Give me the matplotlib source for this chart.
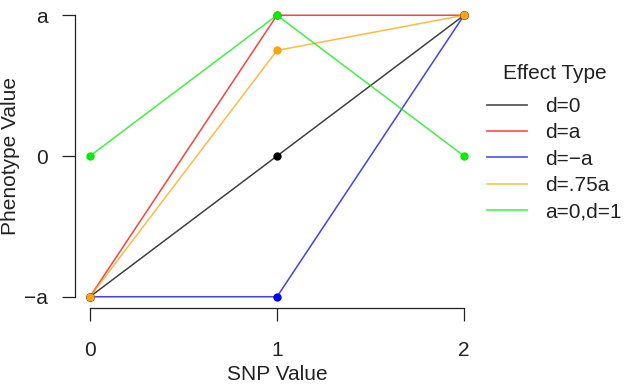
import matplotlib
matplotlib.use("Agg")
import matplotlib.pyplot as plt
from matplotlib.lines import Line2D

plt.rcParams['font.family'] = ['Liberation Sans', 'DejaVu Sans']

snp = [0, 1, 2]
labels = ["d=0", "d=a", "d=\u2212a", "d=.75a", "a=0,d=1"]
colors = ["black", "red", "blue", "orange", "#00ee00"]
values = [
    [-1, 0, 1],
    [-1, 1, 1],
    [-1, -1, 1],
    [-1, 0.75, 1],
    [0, 1, 0],
]
yticks = [-1, 0, 1]
yticklabels = ["\u2212a", "0", "a"]

W, H = 624, 384
FS = 15
fig = plt.figure(figsize=(W / 100, H / 100), dpi=100)
ax = fig.add_axes([75 / W, 1 - 308 / H, 404 / W, 304 / H])

for vals, col in zip(values, colors):
    ax.plot(snp, vals, color=col, lw=1.1, alpha=0.75, zorder=2)
    ax.plot(snp, vals, "o", color=col, ms=6, mec="none", zorder=3)

ax.set_xlim(-0.08, 2.08)
ax.set_ylim(-1.08, 1.08)
ax.set_xticks(snp)
ax.set_yticks(yticks)
ax.set_yticklabels(yticklabels)
for s in ["top", "right"]:
    ax.spines[s].set_visible(False)
ax.spines["left"].set_bounds(-1, 1)
ax.spines["bottom"].set_bounds(0, 2)
for s in ["left", "bottom"]:
    ax.spines[s].set_linewidth(0.9)
    ax.spines[s].set_color("#222222")
ax.tick_params(axis="both", direction="out", length=9.5, width=0.9, color="#222222",
               labelsize=FS, labelcolor="#222222")
ax.tick_params(axis="x", pad=14)
ax.tick_params(axis="y", pad=10)

ax.set_xlabel("SNP Value", fontsize=FS, color="#222222")
ax.set_ylabel("Phenotype Value", fontsize=FS, color="#222222")
ax.xaxis.set_label_coords(0.5, (308 - 375) / 304)
ax.xaxis.label.set_verticalalignment("center")
ax.yaxis.set_label_coords((11 - 75) / 404, 0.5)
ax.yaxis.label.set_verticalalignment("center")

handles = [Line2D([0], [0], color=c, lw=1.3, alpha=0.65) for c in colors]
leg = ax.legend(handles, labels, title="Effect Type", frameon=False,
                loc="upper left", bbox_to_anchor=(483 / W, 1 - 60 / H),
                bbox_transform=fig.transFigure, fontsize=FS, title_fontsize=FS,
                handlelength=1.92, handletextpad=0.87, labelspacing=0.35,
                borderaxespad=0, borderpad=0.2)
for t in leg.get_texts():
    t.set_color("#222222")
leg.get_title().set_color("#222222")
leg._legend_box.sep = 10

fig.savefig("out.png", dpi=100)
